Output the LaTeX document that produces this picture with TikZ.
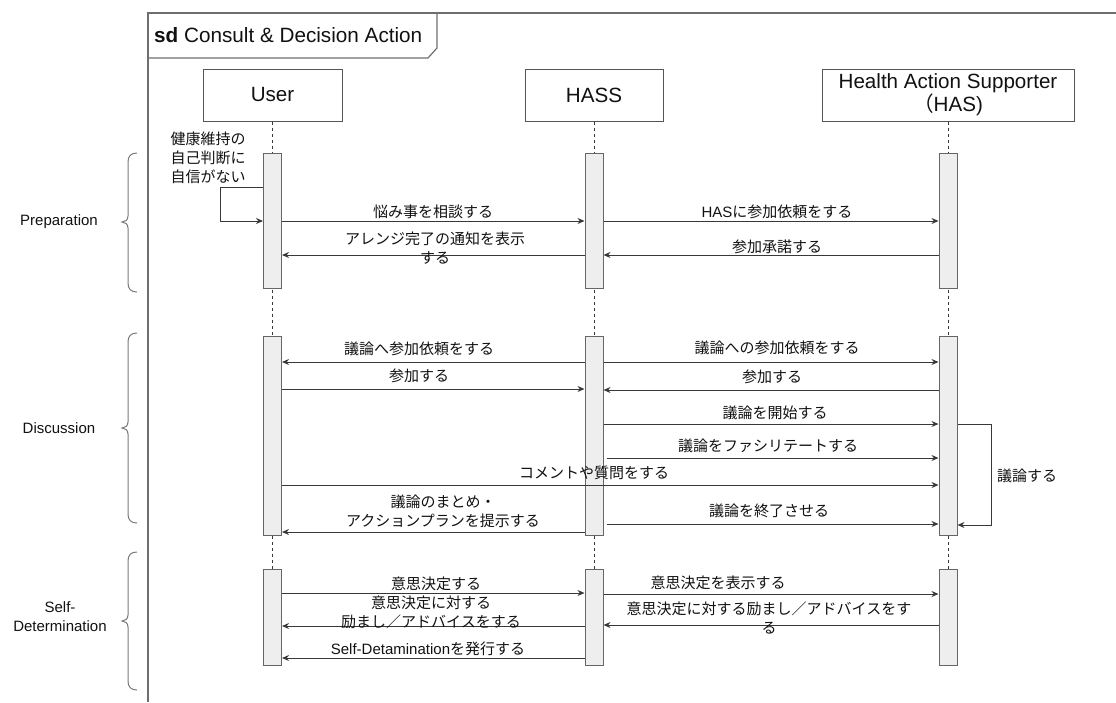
\documentclass[tikz,border=0pt]{standalone}
\usepackage{fontspec}
\setmainfont{Liberation Sans}
\newfontfamily\jp{Noto Sans CJK JP}
\usetikzlibrary{arrows.meta}

\definecolor{lineclr}{HTML}{383838}
\definecolor{boxclr}{HTML}{555555}
\definecolor{barclr}{HTML}{666666}
\definecolor{barfill}{HTML}{EEEEEE}
\definecolor{frameclr}{HTML}{6E6E6E}
\definecolor{braceclr}{HTML}{7A7A7A}
\definecolor{txtclr}{HTML}{111111}

% curly bracket of a phase: top, tip, bottom (y values)
\newcommand\LaneBrace[3]{%
  \draw[braceclr, line width=1pt]
    (137,#1) .. controls (131,#1) and (128,#1+3) .. (128,#1+9)
    -- (128,#2-6) .. controls (128,#2-2) and (125,#2) .. (122,#2)
    .. controls (125,#2) and (128,#2+2) .. (128,#2+6)
    -- (128,#3-9) .. controls (128,#3-3) and (131,#3) .. (137,#3);}

\begin{document}
\begin{tikzpicture}[x=1pt,y=-1pt,
  party/.style={draw=boxclr, line width=1pt, fill=white, minimum height=52pt,
    font=\fontsize{20.6}{23}\selectfont, align=center, inner sep=0pt, text=txtclr},
  actbar/.style={draw=barclr, fill=barfill, line width=1pt, minimum width=18pt, inner sep=0pt},
  lifeln/.style={draw=lineclr, dash pattern=on 3pt off 3pt, line width=0.8pt},
  msg/.style={draw=lineclr, line width=1pt, -{Stealth[length=7pt,width=6pt]}},
  lbl/.style={font=\fontsize{15}{19}\selectfont\jp, align=center, inner sep=0pt, text=txtclr},
  lanelbl/.style={font=\fontsize{15}{19}\selectfont, align=center, inner sep=0pt, text=txtclr},
]
\useasboundingbox (0,0) rectangle (1116,702);

% sequence frame and its title tab
\draw[frameclr, line width=1.2pt] (1116,13) -- (148,13) -- (148,702);
\draw[frameclr, line width=1.2pt] (148,58) -- (428,58) -- (437,48) -- (437,13);
\node[anchor=west, inner sep=0pt, font=\fontsize{20.7}{24}\selectfont, text=txtclr] (ttl) at (154,35)
  {\textbf{sd} Consult \& Decision Action};

% participants
\node[party, minimum width=139pt] (user) at (272.5,95) {User};
\node[party, minimum width=138pt] (hass) at (594,95) {HASS};
\node[party, minimum width=252pt] (has) at (948,95) {Health Action Supporter\\{\jp （}HAS)};

% lifelines
\draw[lifeln] (user.south) -- (user.south |- 0,665);
\draw[lifeln] (hass.south) -- (hass.south |- 0,665);
\draw[lifeln] (has.south) -- (has.south |- 0,665);

% activation bars
\node[actbar, minimum height=135pt] (u1) at (272.5,220.5) {};
\node[actbar, minimum height=135pt] (s1) at (594,220.5) {};
\node[actbar, minimum height=135pt] (h1) at (948,220.5) {};
\node[actbar, minimum height=199pt] (u2) at (272.5,435.5) {};
\node[actbar, minimum height=199pt] (s2) at (594,435.5) {};
\node[actbar, minimum height=199pt] (h2) at (948,435.5) {};
\node[actbar, minimum height=96pt] (u3) at (272.5,617) {};
\node[actbar, minimum height=96pt] (s3) at (594,617) {};
\node[actbar, minimum height=96pt] (h3) at (948,617) {};

% phase brackets and names
\LaneBrace{153}{222}{292}
\LaneBrace{333}{428}{523}
\LaneBrace{552}{621}{690}
\node[lanelbl] (pPrep) at (59,222) {Preparation};
\node[lanelbl] (pDisc) at (59,428) {Discussion};
\node[lanelbl] (pSelf) at (60,617) {Self-\\Determination};

% --- Preparation ---
\draw[msg] (u1.west |- 0,187) -- (220,187) -- (220,221) -- (u1.west |- 0,221);
\node[lbl] (n0) at (208,158) {健康維持の\\自己判断に\\自信がない};
\draw[msg] (u1.east |- 0,221) -- (s1.west |- 0,221);
\node[lbl] (n1) at (433,212) {悩み事を相談する};
\draw[msg] (s1.east |- 0,221) -- (h1.west |- 0,221);
\node[lbl] (n2) at (777,212) {{\rmfamily HAS}に参加依頼をする};
\draw[msg] (h1.west |- 0,255) -- (s1.east |- 0,255);
\node[lbl] (n3) at (777,247) {参加承諾する};
\draw[msg] (s1.west |- 0,255) -- (u1.east |- 0,255);
\node[lbl] (n4) at (435,248) {アレンジ完了の通知を表示\\する};

% --- Discussion ---
\draw[msg] (s2.west |- 0,362) -- (u2.east |- 0,362);
\node[lbl] (d1) at (419,349) {議論へ参加依頼をする};
\draw[msg] (u2.east |- 0,389) -- (s2.west |- 0,389);
\node[lbl] (d2) at (419,376) {参加する};
\draw[msg] (s2.east |- 0,362) -- (h2.west |- 0,362);
\node[lbl] (d3) at (777,348) {議論への参加依頼をする};
\draw[msg] (h2.west |- 0,390) -- (s2.east |- 0,390);
\node[lbl] (d4) at (772,377) {参加する};
\draw[msg] (s2.east |- 0,424) -- (h2.west |- 0,424);
\node[lbl] (d5) at (775,413) {議論を開始する};
\draw[msg] ([xshift=3pt]s2.east |- 0,458) -- (h2.west |- 0,458);
\node[lbl] (d6) at (768,446) {議論をファシリテートする};
\draw[msg] (u2.east |- 0,485) -- (h2.west |- 0,485);
\node[lbl] (d7) at (594,473) {コメントや質問をする};
\draw[msg] ([xshift=3pt]s2.east |- 0,524) -- (h2.west |- 0,524);
\node[lbl] (d8) at (769,511) {議論を終了させる};
\draw[msg] (s2.west |- 0,532) -- (u2.east |- 0,532);
\node[lbl] (d9) at (443,511) {議論のまとめ・\\アクションプランを提示する};
\draw[msg] (h2.east |- 0,424) -- (991,424) -- (991,525) -- (h2.east |- 0,525);
\node[lbl] (d10) at (1027,476) {議論する};

% --- Self-Determination ---
\draw[msg] (u3.east |- 0,593) -- (s3.west |- 0,593);
\node[lbl] (e1) at (436,584) {意思決定する};
\draw[msg] (s3.west |- 0,626) -- (u3.east |- 0,626);
\node[lbl] (e2) at (431,612) {意思決定に対する\\励まし／アドバイスをする};
\draw[msg] (s3.west |- 0,658) -- (u3.east |- 0,658);
\node[lbl] (e3) at (428,649) {{\rmfamily Self-Detamination}を発行する};
\draw[msg] (s3.east |- 0,594) -- (h3.west |- 0,594);
\node[lbl] (e4) at (718,583) {意思決定を表示する};
\draw[msg] (h3.west |- 0,625) -- (s3.east |- 0,625);
\node[lbl] (e5) at (769,618) {意思決定に対する励まし／アドバイスをす\\る};

\end{tikzpicture}
\end{document}
